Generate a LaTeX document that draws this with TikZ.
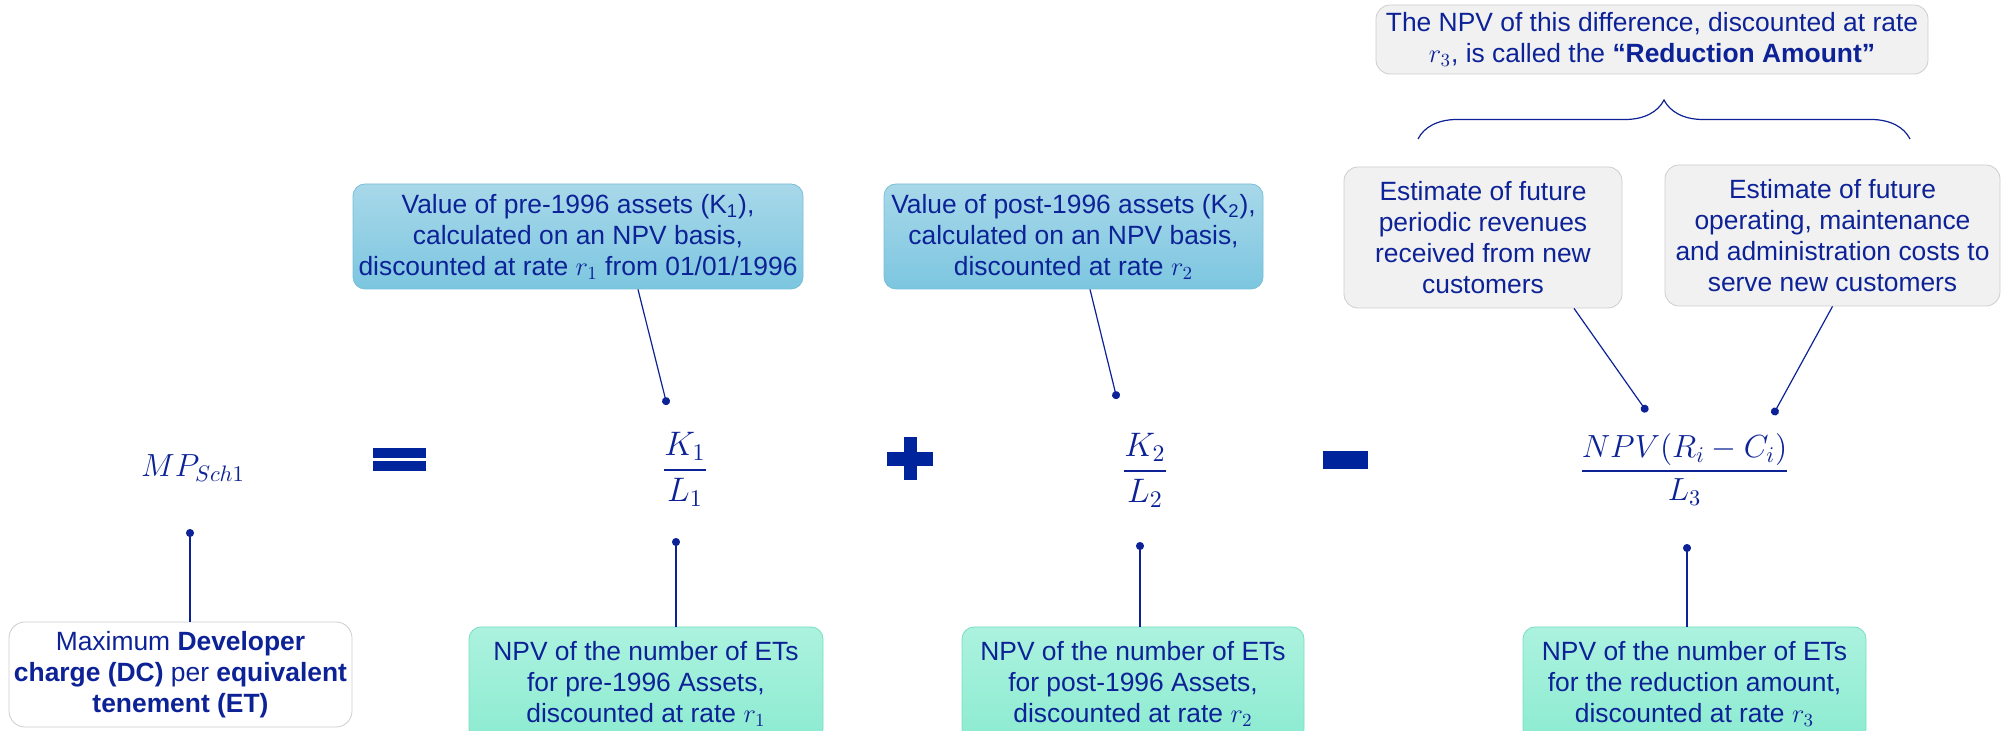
\RequirePackage{fix-cm}
\documentclass[tikz,border=0pt]{standalone}
\usepackage{amsmath}
\usepackage{fontspec}
\setmainfont{Liberation Sans}
\usepackage{xcolor}
\usetikzlibrary{arrows.meta,calc}
\usetikzlibrary{positioning,shapes,decorations.pathreplacing}

\definecolor{navy}{RGB}{12,34,150}
\definecolor{symblue}{RGB}{0,36,156}
\definecolor{bluetop}{RGB}{168,216,233}
\definecolor{bluebot}{RGB}{124,198,224}
\definecolor{blueedge}{RGB}{120,190,215}
\definecolor{greentop}{RGB}{172,242,223}
\definecolor{greenbot}{RGB}{140,235,208}
\definecolor{greenedge}{RGB}{120,222,192}
\definecolor{greyfill}{RGB}{241,241,241}
\definecolor{greyedge}{RGB}{205,205,205}

\tikzset{
    %Define style for boxes
    txtbox/.style={
        rectangle,
        rounded corners=6pt,
        align=center,
        text=navy,
        inner sep=2pt,
        font=\fontsize{13.2}{15.5}\selectfont,
    },
    bluebox/.style={
        txtbox,
        draw=blueedge,
        top color=bluetop,
        bottom color=bluebot,
        minimum width=#1,
        minimum height=52.5pt,
    },
    greenbox/.style={
        txtbox,
        draw=greenedge,
        top color=greentop,
        bottom color=greenbot,
        minimum width=#1,
        minimum height=57pt,
    },
    greybox/.style={
        txtbox,
        rounded corners=7pt,
        draw=greyedge,
        fill=greyfill,
        minimum width=#1,
    },
    whitebox/.style={
        txtbox,
        rounded corners=8pt,
        draw=greyedge,
        fill=white,
        minimum width=#1,
        minimum height=52.5pt,
    },
    formula/.style={
        anchor=base,
        text=navy,
        inner sep=0pt,
        font=\fontsize{16}{19}\selectfont,
    },
    bigformula/.style={
        formula,
        font=\fontsize{17}{20}\selectfont,
    },
    opsign/.style={
        fill=symblue,
    },
    conn/.style={
        draw=navy,
        line width=0.6pt,
        -{Circle[length=4pt]},
    },
}

\begin{document}
\begin{tikzpicture}[x=0.5pt,y=-0.5pt]
	\useasboundingbox (0,0) rectangle (2009,731);

	% top note and brace
	\node[greybox=276pt, minimum height=34.5pt] (note) at (1652,39.5) {The NPV of this difference, discounted at rate\\ $r_3$, is called the \textbf{“Reduction Amount”}};
	\coordinate (braceL) at (1418,139);
	\coordinate (braceR) at (1910,139);
	\draw[navy, line width=0.6pt, decorate, decoration={brace, amplitude=19.5pt}] (braceL) -- (braceR);

	% upper boxes
	\node[bluebox=225pt] (pre) at (578,236.5) {Value of pre-1996 assets (K\textsubscript{1}),\\ calculated on an NPV basis,\\ discounted at rate $r_1$ from 01/01/1996};
	\node[bluebox=189.5pt] (post) at (1073.5,236.5) {Value of post-1996 assets (K\textsubscript{2}),\\ calculated on an NPV basis,\\ discounted at rate $r_2$};
	\node[greybox=139pt, minimum height=70.5pt] (rev) at (1483,237.5) {Estimate of future\\ periodic revenues\\ received from new\\ customers};
	\node[greybox=167.5pt, minimum height=70.5pt] (cost) at (1832.5,235.5) {Estimate of future\\ operating, maintenance\\ and administration costs to\\ serve new customers};

	% formula
	\node[formula] (mp) at (193,477) {$MP_{Sch1}$};
	\fill[opsign] (373,448) rectangle (426,458);
	\fill[opsign] (373,461) rectangle (426,471);
	\node[bigformula] (k1) at (685,478.5) {$\dfrac{K_1}{L_1}$};
	\fill[opsign] (887,452) rectangle (933,466);
	\fill[opsign] (903.5,437) rectangle (917,480);
	\node[bigformula] (k2) at (1145,479.5) {$\dfrac{K_2}{L_2}$};
	\fill[opsign] (1323,451) rectangle (1368,469);
	\node[formula] (red) at (1684.5,479) {$\dfrac{NPV(R_i-C_i)}{L_3}$};

	% lower boxes
	\node[whitebox=171.5pt] (mpbox) at (180.5,674.5) {Maximum \textbf{Developer}\\ \textbf{charge (DC)} per \textbf{equivalent}\\ \textbf{tenement (ET)}};
	\node[greenbox=177pt] (l1) at (646,684) {NPV of the number of ETs\\ for pre-1996 Assets,\\ discounted at rate $r_1$};
	\node[greenbox=171pt] (l2) at (1133,684) {NPV of the number of ETs\\ for post-1996 Assets,\\ discounted at rate $r_2$};
	\node[greenbox=171.5pt] (l3) at (1694.5,684) {NPV of the number of ETs\\ for the reduction amount,\\ discounted at rate $r_3$};

	% dots
	\coordinate (dk1) at (667,405);
	\coordinate (dk2) at (1117,399);
	\coordinate (drev) at (1647,412);
	\coordinate (dcost) at (1773,415);
	\coordinate (dmp) at (190,529);
	\coordinate (dl1) at (676,538);
	\coordinate (dl2) at (1140,542);
	\coordinate (dl3) at (1687,544);

	\draw[conn] ($(pre.south)+(60,0)$) -- (dk1);
	\draw[conn] ($(post.south)+(16.5,0)$) -- (dk2);
	\draw[conn] ($(rev.south)+(91,0)$) -- (drev);
	\draw[conn] (cost.south) -- (dcost);
	\draw[conn] (mpbox.north -| dmp) -- (dmp);
	\draw[conn] (l1.north -| dl1) -- (dl1);
	\draw[conn] (l2.north -| dl2) -- (dl2);
	\draw[conn] (l3.north -| dl3) -- (dl3);
\end{tikzpicture}
\end{document}
